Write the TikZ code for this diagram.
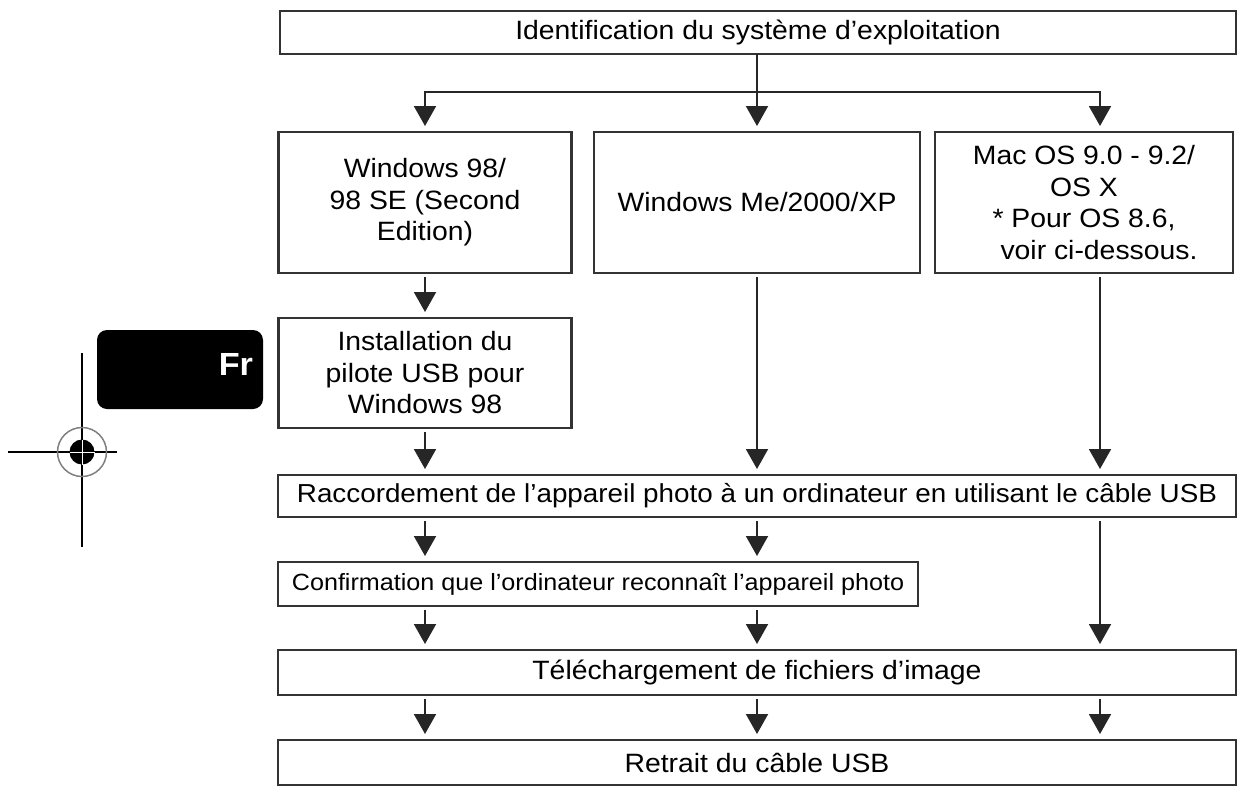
\documentclass[tikz,border=0pt]{standalone}
\usepackage{fontspec}
\setmainfont{Liberation Sans}[FakeStretch=1.07]
\usetikzlibrary{arrows.meta, positioning}

\begin{document}
\begin{tikzpicture}[x=1pt, y=-1pt,
  box/.style={draw=black!80, line width=2.2pt, fill=white, inner sep=0pt, outer sep=0pt,
    align=center, font=\fontsize{26.5}{31.5}\selectfont},
  flow/.style={draw=black!85, line width=2pt, -{Triangle[width=22pt, length=20pt]},
    shorten >=6pt, shorten <=4pt},
  link/.style={draw=black!85, line width=2pt}]
\useasboundingbox (0,0) rectangle (1248,790);
% Columns of the arrows
\coordinate (colA) at (425,0);
\coordinate (colB) at (757,0);
\coordinate (colC) at (1100,0);
% Boxes
\node[box, minimum width=956pt, minimum height=43pt] (ident) at (758,32.5)
  {Identification du système d’exploitation};
\node[box, minimum width=293pt, minimum height=141pt] (win98) at (425,202.5)
  {Windows 98/\\98 SE (Second\\Edition)};
\node[box, minimum width=326pt, minimum height=141pt] (winme) at (757,202.5)
  {Windows Me/2000/XP};
\node[box, minimum width=298pt, minimum height=141pt] (mac) at (1084,202.5)
  {Mac OS 9.0 - 9.2/\\OS X\\* Pour OS 8.6,\hspace*{30pt}\\\hspace*{30pt}voir ci-dessous.};
\node[box, minimum width=293pt, minimum height=110pt] (usbdrv) at (425,373)
  {Installation du\\pilote USB pour\\Windows 98};
\node[box, minimum width=958pt, minimum height=42pt, font=\fontsize{26}{31}\selectfont]
  (connect) at (757,496)
  {Raccordement de l’appareil photo à un ordinateur en utilisant le câble USB};
\node[box, minimum width=640pt, minimum height=44pt, font=\fontsize{23.5}{28}\selectfont]
  (confirm) at (598,584) {Confirmation que l’ordinateur reconnaît l’appareil photo};
\node[box, minimum width=958pt, minimum height=45pt] (download) at (757,672.5)
  {Téléchargement de fichiers d’image};
\node[box, minimum width=958pt, minimum height=45pt] (unplug) at (757,762.5)
  {Retrait du câble USB};
% Branching below the first box
\coordinate (split) at (757,92);
\draw[link] (ident.south -| colB) -- (split);
\draw[flow, shorten <=0pt] (split) -- (winme.north);
\draw[flow, shorten <=0pt] (split) -| (win98.north -| colA);
\draw[flow, shorten <=0pt] (split) -| (mac.north -| colC);
% Arrows down to the connection box
\draw[flow] (win98.south -| colA) -- (usbdrv.north -| colA);
\draw[flow] (usbdrv.south -| colA) -- (connect.north -| colA);
\draw[flow] (winme.south -| colB) -- (connect.north -| colB);
\draw[flow] (mac.south -| colC) -- (connect.north -| colC);
% Remaining steps
\foreach \c in {colA, colB} {
  \draw[flow] (connect.south -| \c) -- (confirm.north -| \c);
  \draw[flow] (confirm.south -| \c) -- (download.north -| \c);
}
\draw[flow] (connect.south -| colC) -- (download.north -| colC);
\foreach \c in {colA, colB, colC}
  \draw[flow] (download.south -| \c) -- (unplug.north -| \c);
% Language tab
\node[fill=black, rounded corners=10pt, minimum width=166pt, minimum height=79pt,
  inner sep=0pt] (lang) at (180,369.5) {};
\node[text=white, font=\bfseries\fontsize{32}{32}\selectfont, anchor=east, inner sep=0pt]
  (langtxt) at ([xshift=-10pt, yshift=5pt]lang.east) {Fr};
% Registration mark
\coordinate (reg) at (82,452);
\draw[black, line width=2pt] (8,452) -- (117,452) (82,353) -- (82,547);
\draw[gray, line width=1.5pt] (reg) circle[radius=24.5pt];
\fill[black] (reg) circle[radius=12.5pt];
\draw[white, line width=1pt] (69.5,452) -- (94.5,452) (82,439.5) -- (82,464.5);
\end{tikzpicture}
\end{document}
